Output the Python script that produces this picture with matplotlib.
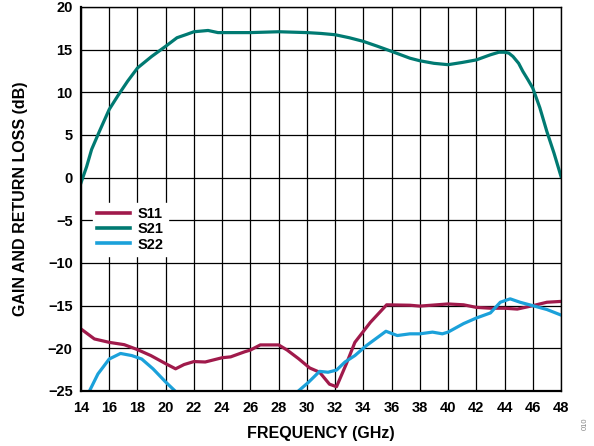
import numpy as np
import matplotlib as mpl
import matplotlib.pyplot as plt

# frequency (GHz) / value (dB)
S21_FREQ = [14.0, 14.4, 14.75, 15.35, 16.0, 16.65, 17.3, 18.0, 19.0, 20.0, 20.8, 21.5,
            22.0, 23.0, 23.7, 25.0, 26.0, 28.0, 30.0, 31.0, 32.0, 33.0, 34.0, 35.0,
            36.0, 37.3, 38.0, 39.0, 40.0, 41.0, 42.0, 43.0, 43.6, 44.0, 44.3, 44.6,
            45.0, 45.3, 45.65, 46.0, 46.5, 47.0, 47.5, 48.0]
S21_DB = [-0.6, 1.3, 3.3, 5.6, 8.0, 9.7, 11.3, 12.85, 14.2, 15.4, 16.4, 16.8,
          17.1, 17.25, 17.0, 17.0, 17.0, 17.1, 17.0, 16.9, 16.75, 16.4, 15.97, 15.4,
          14.8, 14.0, 13.7, 13.4, 13.24, 13.5, 13.8, 14.4, 14.7, 14.7, 14.6, 14.2,
          13.4, 12.45, 11.5, 10.5, 8.2, 5.4, 2.9, 0.15]

S11_FREQ = [14.0, 14.95, 16.0, 17.06, 18.0, 18.95, 20.0, 20.7, 21.3, 22.0, 22.8, 24.0,
            24.6, 25.6, 26.0, 26.7, 28.0, 28.6, 29.4, 30.2, 30.9, 31.6, 32.1, 32.8,
            33.4, 34.5, 35.65, 37.3, 38.0, 40.0, 41.1, 42.0, 43.0, 44.0, 44.9, 46.0,
            47.0, 48.0]
S11_DB = [-17.73, -18.9, -19.3, -19.57, -20.15, -20.85, -21.8, -22.4, -21.9, -21.55,
          -21.6, -21.1, -21.0, -20.4, -20.2, -19.6, -19.6, -20.2, -21.2, -22.3, -22.8,
          -24.2, -24.5, -21.8, -19.3, -16.95, -14.9, -14.95, -15.05, -14.8, -14.9,
          -15.2, -15.3, -15.3, -15.4, -15.0, -14.6, -14.5]

S22_FREQ = [14.3, 14.6, 15.2, 16.0, 16.8, 17.6, 18.3, 19.1, 20.0, 20.6, 21.0,
            np.nan,
            29.1, 29.4, 30.1, 30.9, 31.5, 32.1, 32.7, 33.4, 34.2, 35.6, 36.4, 37.3,
            38.0, 38.9, 39.6, 40.0, 41.1, 42.0, 43.0, 43.7, 44.4, 45.1, 46.0, 47.0, 48.0]
S22_DB = [-26.5, -25.0, -23.0, -21.25, -20.6, -20.85, -21.25, -22.4, -23.95, -24.9, -25.6,
          np.nan,
          -26.0, -25.0, -24.0, -22.7, -22.8, -22.55, -21.6, -20.85, -19.7, -18.0, -18.5,
          -18.3, -18.3, -18.1, -18.3, -18.1, -17.1, -16.45, -15.85, -14.6, -14.2, -14.6,
          -15.0, -15.45, -16.1]

X_TICKS = list(range(14, 49, 2))
Y_TICKS = list(range(-25, 21, 5))

C_S11 = "#A01A4B"
C_S21 = "#007A72"
C_S22 = "#1BA1DA"

mpl.rcParams.update({
    "font.family": ["Liberation Sans", "DejaVu Sans"],
    "font.weight": "bold",
    "font.size": 10.5,
})

fig = plt.figure(figsize=(5.94, 4.46), dpi=100)
ax = fig.add_axes([81 / 594, 1 - 391 / 446, 480 / 594, 384 / 446])

lw = 2.3
ax.plot(S11_FREQ, S11_DB, color=C_S11, lw=lw, label="S11", solid_joinstyle="round")
ax.plot(S21_FREQ, S21_DB, color=C_S21, lw=lw, label="S21", solid_joinstyle="round")
ax.plot(S22_FREQ, S22_DB, color=C_S22, lw=lw, label="S22", solid_joinstyle="round")

ax.set_xlim(14, 48)
ax.set_ylim(-25, 20)
ax.set_xticks(X_TICKS)
ax.set_yticks(Y_TICKS)
ax.set_yticklabels([str(v).replace("-", "\u2212") for v in Y_TICKS])
ax.grid(True, color="black", lw=0.9)
ax.set_axisbelow(True)
ax.tick_params(axis="y", length=0, pad=6, labelsize=10.5)
ax.tick_params(axis="x", length=0, pad=7, labelsize=10.5)
for name, sp in ax.spines.items():
    sp.set_linewidth(1.6 if name in ("left", "bottom") else 1.0)

ax.set_xlabel("FREQUENCY (GHz)", fontsize=11.5, fontweight="bold", labelpad=8)
ax.set_ylabel("GAIN AND RETURN LOSS (dB)", fontsize=11.5, fontweight="bold", labelpad=14)

leg = ax.legend(loc="upper left", bbox_to_anchor=(0.024, 0.49), borderaxespad=0,
                frameon=True, fancybox=False, framealpha=1, edgecolor="white",
                facecolor="white", fontsize=10.5, handlelength=2.3, handletextpad=0.5,
                labelspacing=0.08, borderpad=0.3)
for h in leg.get_lines():
    h.set_linewidth(2.6)

fig.text(0.985, 0.05, "010", rotation=90, fontsize=5.5, color="#888888",
         fontweight="normal", ha="center", va="center")

fig.savefig("out.png", dpi=100)
